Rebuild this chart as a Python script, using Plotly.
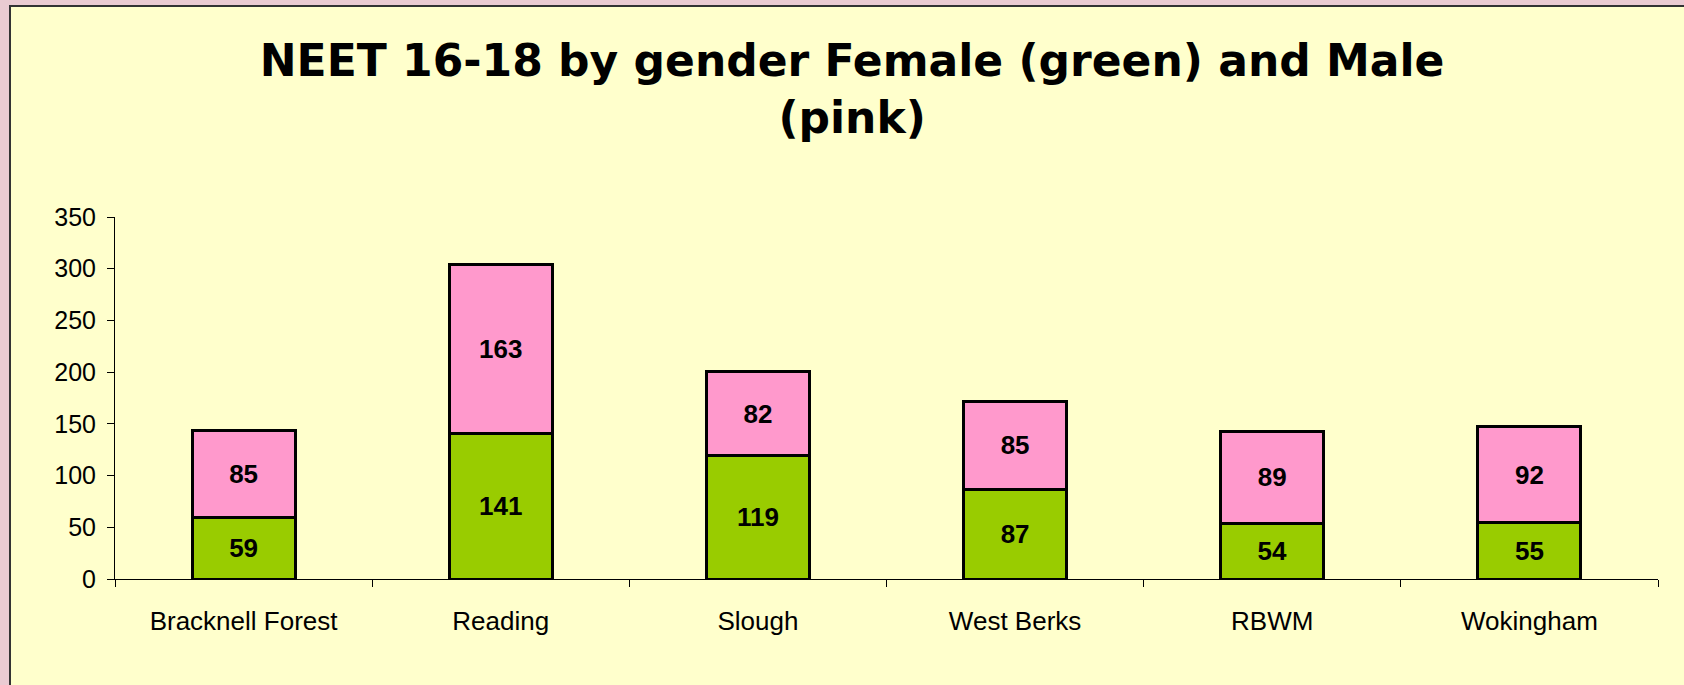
import plotly.graph_objects as go

areas = ["Bracknell Forest", "Reading", "Slough", "West Berks", "RBWM", "Wokingham"]
female = [59, 141, 119, 87, 54, 55]
male = [85, 163, 82, 85, 89, 92]
y_ticks = [0, 50, 100, 150, 200, 250, 300, 350]

W, H = 1684, 685
left, right, top, bottom = 115, 26, 217, 106
pw = W - left - right
ph = H - top - bottom


def px_x(p):
    return (p - left) / pw


def px_y(p):
    return (H - bottom - p) / ph


bar_font = dict(family="Liberation Sans, Arial", size=26, color="black", weight="bold")

fig = go.Figure()
fig.add_trace(go.Bar(x=areas, y=female, name="Female", marker=dict(color="#99CC00", line=dict(color="black", width=3)),
                     text=female, textposition="inside", insidetextanchor="middle", textangle=0,
                     textfont=bar_font))
fig.add_trace(go.Bar(x=areas, y=male, name="Male", marker=dict(color="#FF99CC", line=dict(color="black", width=3)),
                     text=male, textposition="inside", insidetextanchor="middle", textangle=0,
                     textfont=bar_font))

# yellow chart panel with dark frame on a pink page
fig.add_shape(type="rect", xref="paper", yref="paper", layer="below",
              x0=px_x(10), x1=px_x(W + 20), y0=px_y(H + 20), y1=px_y(6),
              fillcolor="#FFFFCC", line=dict(color="#333333", width=2))

fig.update_layout(
    width=W, height=H,
    barmode="stack", bargap=0.6,
    showlegend=False,
    paper_bgcolor="#EACBD2", plot_bgcolor="rgba(0,0,0,0)",
    margin=dict(l=left, r=right, t=top, b=bottom),
    title=dict(text="NEET 16-18 by gender Female (green) and Male<br>(pink)",
               x=0.506, xanchor="center", y=0.889, yanchor="top",
               font=dict(family="DejaVu Sans", size=44, color="black", weight="bold")),
    font=dict(family="Liberation Sans, Arial", color="black"),
    xaxis=dict(showline=True, linecolor="black", linewidth=1, ticks="outside", tickson="boundaries",
               ticklen=7, tickcolor="black", tickfont=dict(size=26), ticklabelstandoff=19,
               showgrid=False, zeroline=False),
    yaxis=dict(range=[0, 350], tickvals=y_ticks, showline=True, linecolor="black", linewidth=1,
               ticks="outside", ticklen=7, tickcolor="black", tickfont=dict(size=25),
               ticklabelstandoff=6, showgrid=False, zeroline=False),
)

fig.write_html("out.html", config={"displayModeBar": False},
               post_script="document.body.style.margin='0';document.body.style.background='#EACBD2';")
